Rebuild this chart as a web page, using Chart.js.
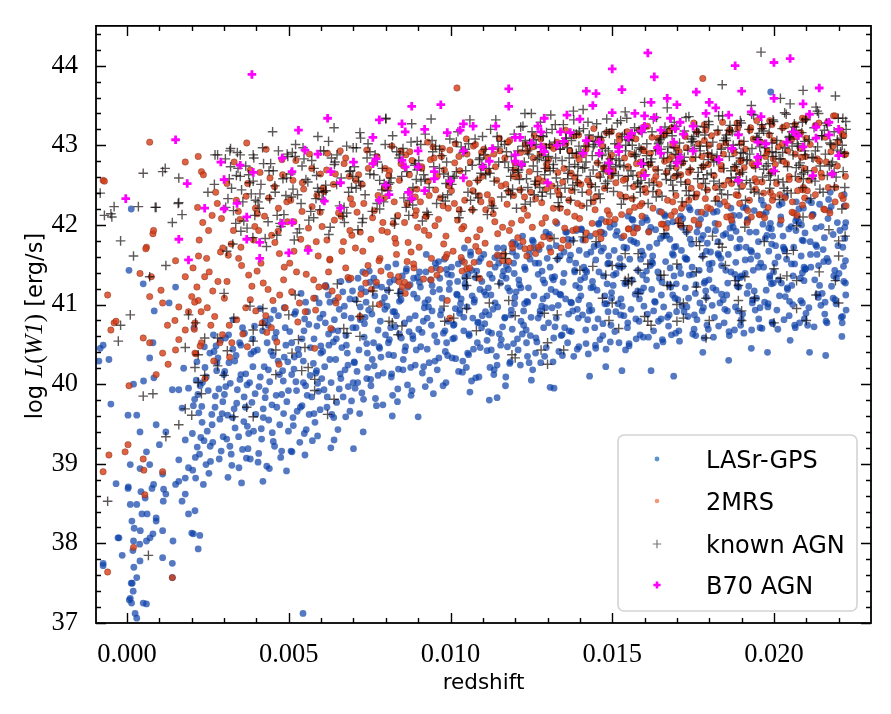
<!DOCTYPE html>
<html>
<head>
<meta charset="utf-8">
<script src="https://cdn.jsdelivr.net/npm/chart.js@4.4.0/dist/chart.umd.min.js"></script>
<style>
  html, body { margin: 0; padding: 0; background: #fff; }
  #wrap { width: 891px; height: 714px; }
</style>
</head>
<body>
<div id="wrap"><canvas id="chart" width="891" height="714"></canvas></div>
<script>
// tick values
const xTickVals = [0, 0.005, 0.010, 0.015, 0.020];
const yTickVals = [37, 38, 39, 40, 41, 42, 43, 44];

// LASr-GPS galaxies [redshift, log L(W1)]
const lasrGps = [
  // low-z tail
  [-.00074,37.72],[-.00034,38.75],[-.00028,38.07],[-.00015,37.85],[.00003,38.69],[.0001,38.49],[.00015,38.28],[.0002,38.03],
  [.00021,37.7],[.00016,37.5],[.0001,37.31],[.00014,37.25],[.00025,37.12],[.0003,37.06],[.00019,37.4],[.0003,37.57],
  [.0004,37.78],[.00041,38.16],[.00046,38.37],[.00056,38.57],[.0006,38.03],[.0005,37.25],[.00077,38.69],[.0008,38.12],
  [.0009,38.32],[.0011,37.82],[.00112,38.53],[.0014,37.75],[.00142,38.03],[.002,38.13],[.0022,37.93],[.00225,38.1],
  [.0012,38.62],[.0016,38.78],[.0018,38.82],[.00007,37.29],[.00013,37.5],[.0006,37.24],[.0014,37.57],[.00205,38.12],
  [-.00025,38.07],[-.00074,37.75],[-.0005,39.75],[-.00087,40.29],[-.00056,40.31],[-.00074,40.49],[-.00083,40.45],
  [.00006,41.43],[.0005,41.26],[.0008,40.52],[.0007,40.33],[.00083,40.08],[.00051,40.04],[.0002,40.0],[.00013,42.2],
  [.00003,39.61],[.0003,39.61],[.0004,39.4],[.0009,39.49],[.0012,39.4],[.0014,39.93],[.0016,39.93],[.001,39.24],
  [.0006,39.15],[.0001,38.99],[.0004,38.94],[.0007,38.99],[.0011,38.87],[.00004,38.71],[.00043,38.65],[.00082,38.74],
  [.00113,38.68],[.0015,38.74],[.0017,38.53],[.0003,38.49],[.00062,38.37],[.0009,38.28],[.00022,38.19],[.00071,38.07],
  [.00039,37.99],[.00018,37.91],[.0011,38.16],[.0019,38.37],[.0018,38.62],[.0021,38.41],[.00084,40.92],[.0013,41.02],
  [.0015,41.22],[.0017,39.7],[.0019,39.95],[.0018,39.3],[.00175,40.2],[.0019,38.95],[.0016,39.05],[.00544,37.12],
  // outliers below the main band
  [.0090,39.59],[.01144,39.83],[.01308,39.96],[.0143,40.1],[.0169,40.1],[.0162,40.17],[.0216,40.36],[.0211,40.4],
  [.0153,40.17],[.0082,39.6],[.0106,39.9],[.0117,39.98],[.0125,40.05],[.0148,40.22],[.0186,40.3],[.0198,40.4],
  [.0205,40.55],[.0073,39.4],[.0063,39.2],[.007,39.19],[.0064,39.3],[.0055,39.11],[.0051,39.15],[.0044,38.94],
  [.0042,38.78],[.0112,39.8],[.0178,40.4],[.0193,40.45],[.0221,40.6],[.0132,39.95],[.0199,43.67],
  // main band
  [.00203,38.92],[.00248,39.41],[.00219,39.87],[.00281,40.33],[.00207,40.71],[.00236,38.74],[.00291,39.16],[.00262,39.62],
  [.00214,40.05],[.00275,40.48],[.00253,38.88],[.00228,39.33],[.00296,39.78],[.00241,40.21],[.00267,40.62],[.00211,39.08],
  [.00284,39.94],[.00232,39.52],[.00258,39.03],[.00272,39.71],[.00244,38.99],[.00299,40.12],[.00222,39.64],[.00265,39.27],
  [.00287,39.56],[.00233,40.02],[.00217,39.21],[.00256,40.39],[.00278,40.27],[.00205,39.73],
  [.00312,38.83],[.00357,39.18],[.00331,39.69],[.00389,40.22],[.00304,40.58],[.00346,38.95],[.00372,39.47],[.00319,40.01],
  [.00394,40.73],[.00362,39.84],[.00337,40.36],[.00308,39.31],[.00381,39.06],[.00352,40.49],[.00326,39.58],[.00367,40.13],
  [.00398,39.62],[.00341,39.93],[.00315,40.27],[.00376,39.38],[.00354,38.76],[.00386,39.77],[.00322,39.12],[.00363,40.64],
  [.00334,39.45],[.00392,40.41],[.00349,40.06],[.00301,39.87],[.00371,39.99],[.00328,40.81],
  [.00405,39.02],[.00438,39.55],[.00471,40.12],[.00419,40.67],[.00493,38.91],[.00452,39.28],[.00427,39.83],[.00486,40.34],
  [.00411,40.95],[.00463,39.71],[.00445,40.41],[.00478,39.16],[.00432,38.97],[.00499,39.92],[.00457,40.58],[.00415,39.44],
  [.00468,40.86],[.00441,40.03],[.00484,39.63],[.00424,40.22],[.00449,39.39],[.00491,40.49],[.00408,39.97],[.00475,39.08],
  [.00436,40.74],[.00461,39.86],[.00481,40.17],[.00421,39.69],[.00454,40.93],[.00497,40.28],
  [.00507,39.16],[.00541,39.73],[.00576,40.26],[.00518,40.88],[.00589,39.35],[.00552,39.98],[.00529,40.44],[.00594,41.02],
  [.00513,39.58],[.00566,40.11],[.00547,40.67],[.00581,39.52],[.00534,39.27],[.00599,40.39],[.00558,40.91],[.00522,40.03],
  [.00571,39.84],[.00545,40.29],[.00587,40.73],[.00526,39.66],[.00554,39.43],[.00592,39.91],[.00509,40.52],[.00578,40.57],
  [.00538,41.14],[.00563,39.62],[.00584,40.14],[.00516,40.19],[.00549,40.82],[.00597,39.68],
  [.00652,39.43],[.00618,39.71],[.00689,39.66],[.00631,40.02],[.00674,40.18],[.00605,40.41],[.00647,40.57],[.00693,40.83],
  [.00622,41.12],[.00661,41.29],[.00684,39.97],[.00613,40.77],[.00639,39.58],[.00677,40.61],[.00656,40.94],[.00697,41.17],
  [.00627,40.31],[.00668,39.84],[.00609,39.93],[.00643,41.05],[.00681,40.39],[.00635,40.68],[.00659,40.13],[.00699,40.02],
  [.00616,41.22],[.00671,40.86],[.00648,39.77],[.00624,40.49],[.00686,41.31],[.00664,40.46],
  [.00719,39.63],[.00768,39.82],[.00741,40.07],[.00702,40.28],[.00785,40.34],[.00733,40.59],[.00757,40.88],[.00796,41.09],
  [.00714,41.33],[.00749,41.42],[.00776,40.11],[.00726,39.89],[.00791,39.74],[.00708,40.71],[.00762,40.52],[.00738,41.16],
  [.00783,40.79],[.00721,40.97],[.00754,39.98],[.00799,40.62],[.00743,40.39],[.00711,40.16],[.00771,41.24],[.00729,41.41],
  [.00764,40.23],[.00789,41.02],[.00736,40.84],[.00705,39.95],[.00779,40.47],[.00751,41.28],
  [.00836,39.78],[.00817,40.09],[.00881,39.92],[.00854,40.31],[.00808,40.52],[.00872,40.66],[.00827,40.91],[.00894,40.43],
  [.00845,41.17],[.00863,41.42],[.00812,41.28],[.00886,41.13],[.00839,40.19],[.00821,39.86],[.00877,40.21],[.00858,40.77],
  [.00804,40.98],[.00848,40.58],[.00891,40.86],[.00831,41.51],[.00867,39.99],[.00815,40.71],[.00898,41.34],[.00842,41.04],
  [.00875,41.25],[.00824,40.36],[.00861,40.47],[.00806,41.47],[.00883,40.61],[.00851,41.36],
  [.00947,39.88],[.00913,40.14],[.00986,40.02],[.00928,40.44],[.00964,40.33],[.00902,40.69],[.00951,40.61],[.00993,40.79],
  [.00919,40.96],[.00974,41.08],[.00938,41.31],[.00981,41.57],[.00907,41.22],[.00956,41.46],[.00925,41.63],[.00969,40.87],
  [.00997,41.27],[.00934,40.27],[.00988,40.52],[.00916,40.79],[.00959,40.18],[.00943,40.92],[.00978,40.64],[.00904,41.41],
  [.00966,41.19],[.00931,41.06],[.00991,41.38],[.00922,39.97],[.00953,41.52],[.00984,40.41],
  [.01012,40.58],[.01088,40.09],[.01047,41.22],[.01003,41.47],[.01069,40.83],[.01025,40.16],[.01094,41.58],[.01056,40.37],
  [.01031,41.01],[.01077,41.34],[.01009,40.74],[.01062,41.66],[.01083,40.52],[.01038,40.29],[.01051,40.97],[.01096,40.71],
  [.01019,41.13],[.01074,41.06],[.01043,41.71],[.01065,40.04],[.01028,40.89],[.01091,41.19],[.01005,40.33],[.01058,40.61],
  [.01081,41.42],[.01036,41.55],[.01071,40.44],[.01015,40.95],[.01049,40.21],[.01098,40.86],[.01022,41.29],[.01067,41.11],
  [.01041,40.67],[.01086,40.78],[.01054,41.38],
  [.01134,40.12],[.01176,40.47],[.01108,40.91],[.01161,41.36],[.01193,41.78],[.01127,40.64],[.01149,41.52],[.01185,40.28],
  [.01117,41.21],[.01168,40.83],[.01142,40.35],[.01199,41.09],[.01103,41.63],[.01157,40.56],[.01179,41.44],[.01122,40.21],
  [.01138,41.02],[.01191,40.69],[.01113,40.42],[.01164,41.71],[.01146,40.97],[.01183,41.17],[.01129,41.33],[.01171,40.09],
  [.01106,40.76],[.01154,41.27],[.01195,40.51],[.01137,41.59],[.01119,40.87],[.01188,40.93],[.01151,40.63],[.01173,41.49],
  [.01125,41.12],[.01197,41.39],[.01144,40.24],
  [.01254,40.18],[.01209,40.43],[.01288,40.71],[.01236,41.04],[.01271,41.38],[.01214,41.73],[.01295,41.91],[.01247,40.61],
  [.01226,40.92],[.01279,40.27],[.01203,41.16],[.01262,41.52],[.01238,40.35],[.01291,41.27],[.01218,40.79],[.01267,40.53],
  [.01244,41.64],[.01282,40.98],[.01207,40.57],[.01258,41.11],[.01231,41.44],[.01296,40.46],[.01223,41.86],[.01274,41.69],
  [.01249,40.84],[.01211,41.31],[.01286,41.07],[.01263,40.39],[.01234,40.68],[.01299,41.58],[.01216,40.24],[.01256,41.79],
  [.01241,41.21],[.01277,40.88],[.01229,41.01],
  [.01317,40.28],[.01362,40.52],[.01395,40.83],[.01341,41.12],[.01308,41.47],[.01376,41.81],[.01329,42.02],[.01353,40.71],
  [.01387,41.24],[.01314,40.96],[.01368,41.56],[.01335,40.41],[.01398,41.68],[.01322,41.35],[.01345,40.62],[.01381,40.35],
  [.01303,40.77],[.01359,41.91],[.01372,41.03],[.01327,41.74],[.01392,40.94],[.01348,41.28],[.01311,41.19],[.01365,40.88],
  [.01339,41.61],[.01384,41.43],[.01319,40.58],[.01356,41.07],[.01397,40.47],[.01333,40.99],[.01374,40.66],[.01306,41.88],
  [.01351,41.39],[.01389,41.93],[.01325,41.16],
  [.01426,40.38],[.01471,40.61],[.01408,40.87],[.01453,41.18],[.01489,41.52],[.01432,41.86],[.01467,42.07],[.01415,41.34],
  [.01496,40.74],[.01448,40.49],[.01477,41.01],[.01421,41.63],[.01459,41.41],[.01493,41.97],[.01437,40.93],[.01403,41.11],
  [.01484,41.26],[.01444,41.73],[.01462,40.56],[.01418,40.68],[.01475,41.89],[.01439,41.29],[.01498,41.08],[.01412,41.47],
  [.01456,40.82],[.01481,40.44],[.01429,40.99],[.01466,41.67],[.01405,41.94],[.01449,41.56],[.01487,40.91],[.01434,41.21],
  [.01473,41.36],[.01419,40.51],[.01458,42.02],
  [.01541,40.43],[.01508,40.66],[.01583,40.79],[.01527,41.07],[.01562,41.31],[.01596,41.62],[.01515,41.92],[.01549,42.11],
  [.01574,40.57],[.01533,41.48],[.01589,41.16],[.01503,41.24],[.01558,40.94],[.01521,40.52],[.01567,41.79],[.01592,42.03],
  [.01545,41.71],[.01512,41.39],[.01579,41.43],[.01536,40.86],[.01554,41.57],[.01598,40.98],[.01518,41.01],[.01571,41.13],
  [.01529,41.84],[.01586,40.62],[.01547,40.71],[.01506,41.68],[.01564,42.06],[.01539,41.26],[.01594,41.37],[.01524,41.58],
  [.01577,41.96],[.01552,40.48],[.01511,40.91],
  [.01637,40.48],[.01674,40.73],[.01609,40.88],[.01652,41.12],[.01691,41.36],[.01625,41.61],[.01668,41.87],[.01603,42.09],
  [.01646,42.17],[.01683,40.62],[.01618,41.49],[.01659,40.97],[.01697,41.73],[.01631,41.04],[.01676,41.25],[.01612,40.59],
  [.01649,41.83],[.01688,42.04],[.01622,41.19],[.01665,41.54],[.01699,40.91],[.01643,40.79],[.01606,41.31],[.01679,41.46],
  [.01634,41.94],[.01657,40.53],[.01694,41.08],[.01615,41.72],[.01671,40.84],[.01628,40.67],[.01686,41.64],[.01641,41.41],
  [.01662,42.13],[.01619,41.97],[.01654,41.28],
  [.01708,40.54],[.01753,40.69],[.01782,40.96],[.01726,41.21],[.01769,41.43],[.01714,41.68],[.01796,41.94],[.01741,42.19],
  [.01762,40.81],[.01703,41.06],[.01787,41.29],[.01731,41.57],[.01775,41.82],[.01718,42.08],[.01749,40.63],[.01793,40.74],
  [.01722,40.91],[.01757,41.14],[.01738,41.37],[.01779,41.61],[.01712,41.39],[.01766,41.99],[.01799,41.51],[.01734,40.85],
  [.01745,41.76],[.01788,42.14],[.01706,40.67],[.01771,41.02],[.01729,41.91],[.01759,41.25],[.01791,41.09],[.01716,40.98],
  [.01784,40.58],[.01747,41.47],[.01737,42.22],
  [.01813,40.59],[.01846,40.77],[.01889,40.92],[.01821,41.18],[.01867,41.41],[.01804,41.66],[.01851,41.89],[.01893,42.12],
  [.01832,42.26],[.01878,40.68],[.01809,40.99],[.01857,41.27],[.01882,41.53],[.01827,41.79],[.01871,42.03],[.01816,40.84],
  [.01843,41.06],[.01897,41.34],[.01836,41.58],[.01862,40.61],[.01885,41.71],[.01802,41.44],[.01854,41.12],[.01874,41.97],
  [.01824,42.17],[.01848,40.94],[.01899,40.81],[.01838,41.49],[.01866,41.84],[.01811,41.21],[.01887,41.23],[.01829,40.73],
  [.01859,41.63],[.01819,41.93],[.01879,41.38],
  [.01907,40.64],[.01953,40.82],[.01981,40.97],[.01922,41.23],[.01968,41.47],[.01914,41.72],[.01992,41.95],[.01939,42.18],
  [.01961,42.31],[.01903,40.88],[.01946,41.08],[.01987,41.33],[.01928,41.57],[.01973,41.83],[.01918,42.07],[.01957,40.71],
  [.01996,40.76],[.01933,41.02],[.01976,41.18],[.01911,41.39],[.01949,41.61],[.01984,41.67],[.01925,41.91],[.01966,42.13],
  [.01942,40.93],[.01998,41.27],[.01936,41.43],[.01971,41.03],[.01905,42.22],[.01959,41.52],[.01989,42.02],[.01931,40.68],
  [.01952,41.79],[.01917,41.14],[.01978,41.87],
  [.02012,40.69],[.02047,40.86],[.02088,41.02],[.02023,41.27],[.02064,41.51],[.02005,41.74],[.02053,41.98],[.02091,42.21],
  [.02036,42.36],[.02079,40.77],[.02017,41.11],[.02059,41.36],[.02084,41.61],[.02028,41.86],[.02071,42.09],[.02009,40.93],
  [.02042,41.19],[.02096,41.44],[.02033,41.68],[.02066,40.71],[.02087,41.81],[.02003,41.52],[.02055,41.24],[.02076,42.04],
  [.02025,42.27],[.02048,41.04],[.02099,40.89],[.02039,41.57],[.02068,41.93],[.02014,41.31],[.02082,41.33],[.02031,40.81],
  [.02061,41.72],[.02019,42.01],[.02093,41.47],
  [.02104,40.74],[.02157,40.88],[.02189,41.06],[.02126,41.31],[.02168,41.54],[.02112,41.79],[.02196,42.03],[.02141,42.26],
  [.02174,42.41],[.02108,40.96],[.02149,41.14],[.02201,41.39],[.02133,41.63],[.02183,41.88],[.02119,42.13],[.02161,40.79],
  [.02208,40.84],[.02137,41.09],[.02178,41.23],[.02114,41.47],[.02152,41.69],[.02213,41.72],[.02129,41.96],[.02171,42.18],
  [.02145,40.99],[.02216,41.29],[.02138,41.49],[.02192,41.01],[.02106,42.31],[.02164,41.58],[.02219,41.97],[.02124,40.72],
  [.02156,41.84],[.02185,41.36],[.02222,41.12],[.02221,41.55],[.02218,42.24],[.02211,40.77],[.02198,41.74],[.02223,40.93]
];

// LASr-GPS, extra points in the crowded core of the band
const lasrGpsCore = [
  [.00224,39.12],[.00263,39.49],[.00209,39.81],[.00277,40.17],[.00238,39.29],[.00294,39.63],[.00216,40.28],[.00251,39.92],
  [.00285,39.06],[.00231,39.72],[.00269,40.41],[.00202,39.38],[.00245,40.09],[.00289,40.55],[.00257,39.22],[.00212,38.82],
  [.00273,39.85],[.00239,40.47],[.00297,39.34],[.00226,39.98],
  [.00318,39.22],[.00361,39.53],[.00305,39.97],[.00383,40.38],[.00339,39.76],[.00374,39.19],[.00327,40.44],[.00352,40.12],
  [.00396,39.88],[.00311,39.61],[.00345,39.34],[.00388,40.57],[.00366,39.71],[.00333,40.29],[.00379,40.02],[.00302,40.16],
  [.00357,40.71],[.00324,38.98],[.00391,39.41],[.00348,40.52],[.00369,39.07],[.00314,40.62],
  [.00416,39.31],[.00448,39.74],[.00483,40.04],[.00403,40.43],[.00437,40.18],[.00472,39.49],[.00428,39.92],[.00461,40.65],
  [.00494,39.78],[.00412,40.09],[.00456,39.22],[.00489,40.71],[.00433,40.52],[.00467,40.29],[.00421,39.58],[.00478,39.87],
  [.00443,40.82],[.00499,39.41],[.00407,39.13],[.00451,40.36],[.00486,40.96],[.00426,40.79],
  [.00514,39.48],[.00557,39.86],[.00531,40.37],[.00586,40.17],[.00503,40.66],[.00545,40.02],[.00578,39.63],[.00521,40.91],
  [.00567,40.46],[.00596,40.83],[.00536,39.71],[.00552,41.03],[.00509,40.12],[.00573,39.29],[.00541,40.57],[.00589,40.01],
  [.00524,39.92],[.00562,40.75],[.00599,40.48],[.00517,40.34],[.00548,39.38],[.00582,41.08],
  [.00619,39.84],[.00661,40.07],[.00638,40.53],[.00683,40.24],[.00606,40.88],[.00652,40.67],[.00694,39.79],[.00627,41.03],
  [.00672,40.98],[.00645,40.31],[.00611,40.22],[.00678,40.49],[.00633,39.62],[.00667,41.16],[.00698,40.71],[.00623,40.63],
  [.00656,39.94],[.00689,41.07],[.00602,40.07],[.00641,40.81],[.00676,39.59],[.00614,41.24],
  [.00713,40.02],[.00758,40.31],[.00734,40.76],[.00781,40.45],[.00706,41.06],[.00747,40.93],[.00792,40.14],[.00724,41.2],
  [.00766,41.11],[.00741,40.51],[.00717,40.43],[.00776,40.68],[.00731,39.81],[.00763,41.33],[.00797,40.94],[.00721,40.81],
  [.00753,40.06],[.00787,41.22],[.00703,40.27],[.00739,41.03],[.00771,39.73],[.00744,40.21],
  [.00818,40.13],[.00859,40.42],[.00833,40.86],[.00884,40.57],[.00805,41.18],[.00847,41.06],[.00891,40.24],[.00826,41.31],
  [.00868,41.22],[.00842,40.63],[.00811,40.56],[.00873,40.82],[.00837,39.94],[.00864,41.45],[.00897,41.08],[.00822,40.91],
  [.00853,40.18],[.00886,41.33],[.00809,40.37],[.00844,41.13],[.00878,39.86],[.00829,40.72],
  [.00917,40.22],[.00958,40.53],[.00932,40.97],[.00983,40.67],[.00904,41.28],[.00946,41.16],[.00991,40.36],[.00924,41.41],
  [.00967,41.33],[.00941,40.74],[.00912,40.65],[.00972,40.93],[.00936,40.05],[.00963,41.54],[.00996,41.19],[.00921,41.02],
  [.00952,40.29],[.00987,41.44],[.00908,40.47],[.00943,41.24],[.00977,39.98],[.00928,40.83],
  [.01016,40.32],[.01057,40.63],[.01033,41.07],[.01084,40.77],[.01003,41.37],[.01045,41.26],[.01092,40.46],[.01024,41.51],
  [.01066,41.43],[.01041,40.84],[.01011,40.75],[.01073,41.03],[.01037,40.15],[.01062,41.62],[.01097,41.29],[.01021,41.12],
  [.01053,40.39],[.01088,41.54],[.01007,40.57],[.01044,41.34],[.01078,40.08],[.01029,40.93],
  [.01126,40.43],[.01161,40.72],[.01104,41.16],[.01187,40.87],[.01138,41.47],[.01172,41.33],[.01113,40.55],[.01149,41.61],
  [.01195,41.52],[.01131,40.94],[.01168,40.84],[.01109,41.12],[.01183,40.26],[.01145,41.71],[.01121,41.38],[.01177,41.21],
  [.01155,40.49],[.01192,41.66],[.01117,40.66],[.01164,41.42],[.01135,40.18],[.01198,41.01],
  [.01235,40.52],[.01271,40.83],[.01213,41.25],[.01294,40.96],[.01246,41.57],[.01283,41.42],[.01222,40.63],[.01258,41.71],
  [.01204,41.61],[.01239,41.03],[.01277,40.92],[.01218,41.21],[.01291,40.35],[.01253,41.81],[.01229,41.47],[.01286,41.31],
  [.01264,40.58],[.01201,41.76],[.01226,40.74],[.01273,41.52],[.01243,40.27],[.01298,41.11],
  [.01342,40.61],[.01378,40.92],[.01314,41.34],[.01396,41.06],[.01351,41.66],[.01387,41.52],[.01323,40.72],[.01363,41.82],
  [.01306,41.71],[.01338,41.13],[.01374,41.02],[.01318,41.31],[.01392,40.44],[.01356,41.91],[.01331,41.57],[.01384,41.41],
  [.01367,40.67],[.01302,41.86],[.01327,40.83],[.01371,41.62],[.01346,40.36],[.01399,41.21],
  [.01446,40.71],[.01483,41.01],[.01417,41.43],[.01498,41.15],[.01455,41.75],[.01489,41.61],[.01424,40.81],[.01467,41.91],
  [.01409,41.81],[.01441,41.22],[.01477,41.11],[.01421,41.41],[.01494,40.53],[.01458,42.01],[.01434,41.66],[.01486,41.51],
  [.01471,40.76],[.01404,41.95],[.01429,40.92],[.01473,41.71],[.01449,40.45],[.01402,41.31],
  [.01548,40.77],[.01584,41.07],[.01519,41.49],[.01597,41.21],[.01557,41.81],[.01591,41.67],[.01526,40.87],[.01568,41.97],
  [.01511,41.87],[.01543,41.28],[.01579,41.17],[.01523,41.47],[.01596,40.59],[.01561,42.07],[.01536,41.72],[.01588,41.57],
  [.01573,40.82],[.01506,42.01],[.01531,40.98],[.01576,41.77],[.01552,40.51],[.01504,41.37],
  [.01651,40.82],[.01687,41.12],[.01622,41.54],[.01698,41.26],[.01659,41.86],[.01692,41.72],[.01628,40.92],[.01671,42.02],
  [.01613,41.92],[.01646,41.33],[.01681,41.22],[.01625,41.52],[.01696,40.64],[.01663,42.11],[.01638,41.77],[.01689,41.62],
  [.01676,40.87],[.01608,42.06],[.01633,41.03],[.01678,41.82],[.01655,40.56],[.01606,41.42],
  [.01754,40.87],[.01789,41.17],[.01725,41.59],[.01799,41.31],[.01762,41.91],[.01794,41.77],[.01731,40.97],[.01773,42.07],
  [.01716,41.97],[.01749,41.38],[.01784,41.27],[.01728,41.57],[.01797,40.69],[.01765,42.16],[.01741,41.82],[.01791,41.67],
  [.01778,40.92],[.01711,42.11],[.01736,41.08],[.01781,41.87],[.01758,40.61],[.01707,41.47],
  [.01856,40.92],[.01891,41.22],[.01827,41.64],[.01898,41.36],[.01864,41.96],[.01895,41.82],[.01833,41.02],[.01875,42.12],
  [.01818,42.02],[.01851,41.43],[.01886,41.32],[.01829,41.62],[.01897,40.74],[.01867,42.21],[.01843,41.87],[.01893,41.72],
  [.01881,40.97],[.01813,42.16],[.01838,41.13],[.01883,41.92],[.01861,40.66],[.01809,41.52],
  [.01957,40.96],[.01992,41.26],[.01928,41.68],[.01999,41.41],[.01966,42.01],[.01996,41.86],[.01934,41.06],[.01976,42.16],
  [.01919,42.06],[.01952,41.47],[.01987,41.36],[.01931,41.66],[.01994,40.78],[.01968,42.25],[.01945,41.91],[.01993,41.76],
  [.01982,41.01],[.01914,42.21],[.01939,41.17],[.01984,41.96],[.01963,40.7],[.01911,41.56],
  [.02058,41.0],[.02093,41.3],[.02029,41.72],[.02098,41.45],[.02067,42.05],[.02096,41.9],[.02035,41.1],[.02077,42.2],
  [.02021,42.1],[.02054,41.51],[.02088,41.4],[.02032,41.7],[.02094,40.82],[.02069,42.29],[.02046,41.95],[.02091,41.8],
  [.02083,41.05],[.02016,42.25],[.02041,41.21],[.02085,42.0],[.02064,40.74],[.02013,41.6],
  [.02158,41.03],[.02193,41.33],[.02129,41.75],[.02215,41.48],[.02167,42.08],[.02204,41.93],[.02135,41.13],[.02177,42.23],
  [.02121,42.13],[.02154,41.54],[.02188,41.43],[.02132,41.73],[.02212,40.85],[.02169,42.32],[.02146,41.98],[.02219,41.83],
  [.02183,41.08],[.02116,42.28],[.02141,41.24],[.02222,42.03],[.02164,40.77],[.02113,41.63],[.02221,41.27],[.02217,42.38]
];

// 2MRS galaxies
const twoMrs = [
  // sparse, low redshift
  [-.00074,42.56],[.0007,43.04],[.0018,42.79],[.0023,42.67],[.0037,43.03],[.0008,41.89],[.0006,41.72],[-.0007,42.55],
  [.0022,42.86],[.0015,41.55],[.00082,41.93],[.00058,41.7],[.0004,41.39],[-.0006,41.12],[-.0004,40.77],[.0005,40.58],
  [.0007,40.52],[.0011,41.02],[.00148,40.8],[.0018,41.35],[.0022,41.05],[.0024,41.35],[.0021,40.77],[-.0005,40.68],
  [-.00034,40.79],[.00075,41.35],[.00006,39.98],[.00003,39.24],[-.00056,39.11],[-.00074,38.9],[-.0006,37.64],[.0014,37.57],
  [.0002,37.95],[.0009,40.12],[.00127,40.25],[.0011,40.39],[.0015,40.43],[.0016,40.56],[.0018,40.68],[.0007,41.1],
  [.00105,41.18],[.00125,40.74],[.0016,40.97],[.0019,40.91],[.0020,41.1],[.0021,40.39],[.0023,40.52],[.0005,39.06],
  [.00052,38.92],[.0011,38.9],[.00055,38.61],[-.00006,39.15],[.0102,43.72],[.0178,43.84],[.0062,42.9],[.0043,42.95],
  // scattered inside the GPS band
  [.0086,41.14],[.0099,41.05],[.00998,40.83],[.0094,41.31],[.0087,41.24],[.0084,41.29],[.0123,41.7],[.0131,41.66],
  [.0109,41.33],[.0118,41.54],[.0072,40.85],[.0063,40.7],[.0058,40.45],[.0047,40.25],[.0078,41.0],[.0105,41.45],
  [.0142,41.9],[.0155,41.95],[.0171,42.0],[.0193,42.1],[.0128,41.75],
  // main band
  [.00241,40.07],[.00213,40.38],[.00287,40.52],[.00229,40.91],[.00265,41.17],[.00204,41.46],[.00296,41.71],[.00252,41.93],
  [.00218,42.22],[.00274,42.41],[.00236,42.63],[.00259,40.74],[.00281,41.29],[.00208,40.69],[.00246,41.58],[.00292,42.08],
  [.00223,41.81],[.00268,40.29],
  [.00317,40.34],[.00372,40.47],[.00339,40.81],[.00301,41.08],[.00386,41.23],[.00354,41.49],[.00322,41.76],[.00395,41.98],
  [.00344,42.17],[.00368,42.36],[.00309,42.52],[.00381,42.69],[.00331,42.79],[.00358,40.63],[.00313,41.62],[.00376,41.37],
  [.00349,42.07],[.00398,40.92],
  [.00463,40.53],[.00418,40.77],[.00489,40.96],[.00436,41.19],[.00402,41.42],[.00471,41.64],[.00447,41.87],[.00425,42.11],
  [.00494,42.29],[.00456,42.48],[.00411,42.66],[.00479,42.82],[.00432,40.65],[.00484,41.31],[.00451,41.05],[.00407,41.93],
  [.00468,42.21],[.00442,42.59],
  [.00528,40.78],[.00583,40.93],[.00509,41.16],[.00554,41.38],[.00591,41.61],[.00537,41.82],[.00516,42.04],[.00572,42.23],
  [.00546,42.45],[.00598,42.64],[.00522,42.81],[.00564,42.89],[.00503,41.52],[.00577,41.08],[.00541,42.17],[.00587,42.37],
  [.00559,41.71],[.00513,42.56],
  [.00646,41.02],[.00612,41.23],[.00683,41.34],[.00627,41.56],[.00669,41.79],[.00603,41.98],[.00654,42.15],[.00691,42.33],
  [.00638,42.51],[.00617,42.69],[.00676,42.84],[.00659,42.93],[.00623,41.41],[.00695,41.87],[.00641,42.06],[.00608,42.42],
  [.00687,42.61],[.00664,41.67],
  [.00723,41.13],[.00771,41.28],[.00745,41.49],[.00706,41.71],[.00788,41.93],[.00759,42.09],[.00732,42.27],[.00795,42.46],
  [.00716,42.63],[.00764,42.78],[.00741,42.94],[.00782,41.58],[.00711,42.16],[.00754,41.82],[.00798,42.71],[.00727,42.51],
  [.00776,42.37],[.00737,41.39],
  [.00851,41.22],[.00814,41.37],[.00887,41.46],[.00833,41.63],[.00869,41.78],[.00805,41.91],[.00858,42.03],[.00894,42.18],
  [.00826,42.29],[.00876,42.42],[.00842,42.56],[.00811,42.68],[.00881,42.81],[.00847,42.93],[.00819,42.99],[.00866,41.54],
  [.00898,41.97],[.00837,42.12],[.00873,42.63],[.00808,42.47],[.00855,42.74],[.00891,42.35],[.00828,41.83],[.00862,42.88],
  [.00917,41.32],[.00968,41.44],[.00941,41.58],[.00903,41.72],[.00986,41.86],[.00952,41.99],[.00924,42.11],[.00977,42.24],
  [.00934,42.37],[.00995,42.49],[.00959,42.61],[.00911,42.73],[.00972,42.86],[.00946,42.98],[.00929,43.04],[.00989,41.63],
  [.00907,42.29],[.00963,42.07],[.00938,42.82],[.00981,42.69],[.00919,41.93],[.00954,42.44],[.00998,42.94],[.00931,42.55],
  [.01036,41.42],[.01073,41.53],[.01008,41.67],[.01054,41.81],[.01091,41.94],[.01022,42.06],[.01067,42.19],[.01044,42.31],
  [.01003,42.43],[.01085,42.56],[.01029,42.68],[.01061,42.79],[.01096,42.91],[.01015,43.02],[.01049,43.08],[.01078,41.73],
  [.01033,41.59],[.01012,42.27],[.01089,42.37],[.01058,42.52],[.01026,42.86],[.01071,42.99],[.01041,41.98],[.01099,42.72],
  [.01121,41.51],[.01164,41.63],[.01107,41.77],[.01146,41.89],[.01189,42.02],[.01132,42.14],[.01175,42.26],[.01114,42.38],
  [.01157,42.49],[.01196,42.61],[.01139,42.73],[.01168,42.84],[.01103,42.95],[.01183,43.06],[.01151,43.09],[.01127,42.31],
  [.01192,41.71],[.01143,42.56],[.01117,42.67],[.01179,42.42],[.01161,41.97],[.01134,42.89],[.01199,42.78],[.01109,42.19],
  [.01236,41.61],[.01271,41.72],[.01208,41.84],[.01253,41.97],[.01294,42.09],[.01227,42.2],[.01263,42.33],[.01215,42.44],
  [.01286,42.55],[.01244,42.67],[.01202,42.78],[.01277,42.89],[.01232,43.01],[.01259,43.12],[.01298,42.71],[.01219,42.06],
  [.01282,42.28],[.01248,42.41],[.01211,42.61],[.01267,42.52],[.01238,42.93],[.01289,42.99],[.01224,41.79],[.01256,42.84],
  [.01342,41.71],[.01307,41.83],[.01378,41.93],[.01325,42.04],[.01361,42.16],[.01393,42.27],[.01336,42.38],[.01314,42.49],
  [.01384,42.6],[.01351,42.71],[.01303,42.82],[.01369,42.93],[.01329,43.04],[.01396,43.13],[.01356,43.19],[.01318,42.21],
  [.01374,42.43],[.01347,42.54],[.01389,42.87],[.01311,42.99],[.01366,42.31],[.01332,42.66],[.01399,42.08],[.01353,41.96],
  [.01417,41.81],[.01462,41.91],[.01438,42.02],[.01491,42.13],[.01406,42.24],[.01449,42.35],[.01476,42.46],[.01424,42.56],
  [.01485,42.67],[.01454,42.78],[.01412,42.88],[.01469,42.99],[.01433,43.09],[.01497,43.17],[.01443,43.21],[.01481,42.04],
  [.01403,42.51],[.01458,42.62],[.01428,42.41],[.01493,42.83],[.01466,43.06],[.01419,42.95],[.01447,42.19],[.01474,42.72],
  [.01536,41.86],[.01578,41.96],[.01509,42.07],[.01553,42.17],[.01592,42.27],[.01524,42.38],[.01566,42.48],[.01541,42.58],
  [.01503,42.68],[.01587,42.79],[.01558,42.89],[.01517,42.99],[.01573,43.08],[.01546,43.17],[.01598,43.23],[.01529,42.13],
  [.01562,42.33],[.01511,42.53],[.01583,42.63],[.01538,42.84],[.01594,42.95],[.01521,43.12],[.01569,42.22],[.01549,42.73],
  [.01613,41.91],[.01657,42.01],[.01682,42.12],[.01626,42.21],[.01671,42.31],[.01604,42.41],[.01645,42.51],[.01693,42.61],
  [.01634,42.7],[.01662,42.8],[.01618,42.9],[.01687,43.0],[.01641,43.09],[.01675,43.18],[.01609,43.24],[.01652,42.16],
  [.01697,42.37],[.01629,42.56],[.01668,42.66],[.01616,42.76],[.01684,42.86],[.01638,42.96],[.01659,43.13],[.01601,42.46],
  [.01739,41.96],[.01704,42.06],[.01776,42.16],[.01721,42.26],[.01758,42.35],[.01794,42.44],[.01733,42.54],[.01712,42.63],
  [.01781,42.73],[.01748,42.83],[.01707,42.92],[.01767,43.02],[.01726,43.11],[.01789,43.19],[.01752,43.28],[.01714,42.21],
  [.01773,42.49],[.01742,42.69],[.01798,42.88],[.01729,42.97],[.01762,42.39],[.01718,42.78],[.01785,43.06],[.01737,42.31],
  [.01828,42.01],[.01866,42.11],[.01804,42.2],[.01847,42.29],[.01883,42.38],[.01819,42.47],[.01859,42.56],[.01895,42.66],
  [.01836,42.75],[.01812,42.84],[.01874,42.94],[.01851,43.03],[.01807,43.12],[.01888,43.21],[.01841,43.29],[.01823,42.33],
  [.01869,42.52],[.01898,42.81],[.01833,42.99],[.01856,42.24],[.01815,42.62],[.01879,42.71],[.01844,42.89],[.01862,43.17],
  [.01917,42.03],[.01956,42.13],[.01982,42.22],[.01924,42.31],[.01968,42.4],[.01903,42.49],[.01941,42.58],[.01991,42.67],
  [.01932,42.77],[.01974,42.86],[.01912,42.95],[.01959,43.04],[.01986,43.13],[.01928,43.22],[.01947,43.31],[.01997,42.36],
  [.01908,42.72],[.01963,42.54],[.01936,43.08],[.01979,42.91],[.01919,42.18],[.01952,42.82],[.01994,43.26],[.01943,42.45],
  [.02022,42.06],[.02061,42.15],[.02088,42.25],[.02034,42.34],[.02073,42.43],[.02008,42.52],[.02047,42.61],[.02094,42.71],
  [.02029,42.8],[.02066,42.89],[.02014,42.98],[.02054,43.07],[.02083,43.16],[.02039,43.25],[.02097,43.33],[.02018,42.38],
  [.02077,42.57],[.02043,42.93],[.02004,42.76],[.02069,43.11],[.02091,42.47],[.02026,43.02],[.02057,42.29],[.02085,42.85],
  [.02117,42.11],[.02154,42.2],[.02189,42.29],[.02128,42.38],[.02168,42.47],[.02108,42.56],[.02146,42.65],[.02196,42.74],
  [.02134,42.83],[.02176,42.92],[.02112,43.01],[.02159,43.1],[.02207,43.19],[.02139,43.28],[.02184,43.37],[.02214,42.33],
  [.02221,42.61],[.02218,42.88],[.02211,43.14],[.02223,42.24],[.02103,42.43],[.02162,42.79],[.02198,43.04],[.02125,42.69]
];

// 2MRS, extra points in the crowded band
const twoMrsBand = [
  [.00226,40.48],[.00271,40.85],[.00209,41.03],[.00254,41.41],[.00289,41.66],[.00234,42.03],[.00216,41.22],[.00279,42.27],
  [.00248,40.96],[.00295,40.62],[.00221,41.61],[.00263,42.12],
  [.00324,40.52],[.00367,40.96],[.00309,41.29],[.00352,41.72],[.00391,41.81],[.00338,42.31],[.00316,40.74],[.00381,41.06],
  [.00345,41.58],[.00397,42.21],[.00329,41.93],[.00373,42.52],
  [.00429,40.86],[.00472,41.12],[.00414,41.52],[.00457,41.78],[.00496,42.04],[.00438,42.34],[.00421,41.27],[.00486,41.47],
  [.00446,40.71],[.00403,42.14],[.00467,41.92],[.00481,42.63],
  [.00533,41.02],[.00577,41.31],[.00516,41.67],[.00561,41.96],[.00597,42.16],[.00542,42.53],[.00524,41.41],[.00585,41.79],
  [.00551,40.91],[.00506,42.31],[.00571,42.71],[.00593,41.22],
  [.00634,41.17],[.00676,41.46],[.00618,41.81],[.00662,42.11],[.00697,42.26],[.00644,42.64],[.00627,41.57],[.00689,41.93],
  [.00653,41.09],[.00606,42.46],[.00671,42.77],[.00692,41.33],
  [.00738,41.27],[.00779,41.55],[.00721,41.91],[.00765,42.18],[.00796,42.34],[.00746,42.71],[.00729,41.67],[.00791,42.03],
  [.00756,41.19],[.00707,42.56],[.00773,42.86],[.00785,41.42],
  [.00839,41.35],[.00878,41.66],[.00823,42.02],[.00866,42.26],[.00896,42.45],[.00847,42.77],[.00831,41.77],[.00891,42.12],
  [.00858,41.28],[.00809,42.62],[.00874,42.92],[.00886,41.51],
  [.00941,41.44],[.00979,41.76],[.00925,42.11],[.00968,42.34],[.00997,42.53],[.00949,42.84],[.00933,41.87],[.00993,42.21],
  [.00958,41.37],[.00911,42.71],[.00975,42.96],[.00985,41.59],
  [.01043,41.53],[.01081,41.85],[.01027,42.19],[.01069,42.43],[.01098,42.61],[.01051,42.89],[.01035,41.95],[.01094,42.29],
  [.01059,41.46],[.01013,42.78],[.01077,43.01],[.01087,41.67],
  [.01145,41.62],[.01182,41.93],[.01128,42.27],[.01171,42.51],[.01199,42.69],[.01153,42.93],[.01137,42.04],[.01195,42.37],
  [.01161,41.55],[.01115,42.85],[.01178,43.04],[.01189,41.76],
  [.01247,41.71],[.01283,42.02],[.01229,42.35],[.01272,42.58],[.01297,42.76],[.01255,42.98],[.01238,42.12],[.01296,42.45],
  [.01263,41.64],[.01217,42.91],[.01279,43.08],[.01288,41.85],
  [.01348,41.81],[.01384,42.11],[.01331,42.43],[.01373,42.65],[.01398,42.82],[.01357,43.02],[.01339,42.21],[.01395,42.53],
  [.01364,41.74],[.01319,42.96],[.01381,43.12],[.01389,41.95],
  [.01449,41.89],[.01485,42.18],[.01432,42.5],[.01474,42.71],[.01498,42.88],[.01458,43.07],[.01441,42.29],[.01496,42.61],
  [.01465,41.83],[.01421,43.01],[.01482,43.16],[.01491,42.04],
  [.01551,41.95],[.01586,42.24],[.01534,42.56],[.01575,42.77],[.01599,42.93],[.01559,43.11],[.01542,42.35],[.01597,42.67],
  [.01566,41.9],[.01522,43.06],[.01583,43.19],[.01592,42.11],
  [.01652,42.01],[.01687,42.29],[.01635,42.61],[.01676,42.82],[.01699,42.97],[.01661,43.14],[.01643,42.41],[.01698,42.72],
  [.01667,41.96],[.01623,43.1],[.01684,43.22],[.01693,42.17],
  [.01753,42.06],[.01788,42.33],[.01736,42.66],[.01777,42.86],[.01799,43.0],[.01762,43.17],[.01744,42.46],[.01797,42.76],
  [.01768,42.01],[.01724,43.13],[.01785,43.26],[.01794,42.22],
  [.01854,42.1],[.01889,42.37],[.01837,42.7],[.01878,42.9],[.01899,43.03],[.01863,43.2],[.01845,42.5],[.01897,42.8],
  [.01869,42.06],[.01825,43.16],[.01886,43.28],[.01894,42.27],
  [.01955,42.13],[.01989,42.41],[.01938,42.74],[.01979,42.93],[.01999,43.06],[.01964,43.23],[.01946,42.54],[.01998,42.83],
  [.01971,42.09],[.01926,43.19],[.01987,43.31],[.01995,42.31],
  [.02056,42.16],[.02089,42.44],[.02039,42.77],[.02081,42.96],[.02099,43.09],[.02065,43.26],[.02047,42.57],[.02098,42.86],
  [.02072,42.12],[.02027,43.22],[.02088,43.34],[.02095,42.34],
  [.02157,42.19],[.02191,42.47],[.02141,42.8],[.02183,42.99],[.02216,43.12],[.02166,43.29],[.02148,42.6],[.02222,42.89],
  [.02173,42.15],[.02128,43.25],[.02189,43.37],[.02209,42.37]
];

// known AGN
const knownAgn = [
  // sparse, low redshift
  [-.00083,42.4],[-.0004,42.23],[-.0007,42.12],[-.00047,42.1],[.0005,42.65],[.0011,42.67],[.00118,42.71],[.00087,42.22],
  [.0016,42.59],[.00158,42.27],[.0014,42.03],[.0017,42.13],[.0045,43.17],[.0028,42.88],[.0032,42.96],[-.0002,41.8],
  [-.0005,42.14],[.0002,41.61],[.0012,41.49],[.0016,42.28],[.0009,42.22],[.00035,42.23],[-.0002,40.74],[.0001,40.87],
  [-.00027,40.54],[.0007,41.35],[.00272,42.88],[.0035,42.88],[.0039,42.88],[.0052,42.86],[.0064,43.22],[.0059,43.11],
  [.0072,43.16],[.008,43.34],[.0032,42.73],[.0035,42.61],[.0039,42.55],[.0027,42.51],[.0025,42.41],[-.0006,38.53],
  [.0005,39.85],[.0008,39.88],[.0012,39.34],[.0016,39.49],[.0018,39.69],[.002,39.61],[.00066,37.85],[.0023,39.88],
  [.0021,40.21],[.0018,40.46],[.0022,40.37],[.0019,40.87],[.00212,40.77],[.0024,40.58],[.0022,40.02],[.0024,40.11],
  [.0028,40.58],[.003,41.14],[.0028,40.23],[.003,40.11],[.0031,40.42],[.0033,39.59],[.0037,39.71],[.0039,39.59],
  [.0039,40.54],[.0046,40.43],[.0051,40.39],[.0046,40.12],[.0054,40.17],[.0058,40.06],[.0058,39.92],[.0062,39.62],
  [.0064,39.81],[.0055,40.46],[.0068,40.64],[.0072,40.6],[.0082,40.77],[.0076,40.98],[.0072,40.85],[.0053,40.56],
  [.005,40.87],[.0052,41.12],[.0039,40.68],[.0042,40.74],[.0033,40.83],[.0042,40.95],[.0038,40.98],[.0056,40.21],
  [.0067,40.7],[.0065,41.26],[.0071,41.04],[.0076,41.17],[.0081,41.18],
  // inside the GPS band
  [.0084,41.14],[.0085,40.73],[.00838,40.62],[.0081,40.79],[.0098,40.98],[.00982,40.79],[.0105,40.95],[.0108,40.67],
  [.0112,41.02],[.0105,41.33],[.0108,41.35],[.0115,41.26],[.0117,41.64],[.0118,41.05],[.012,40.86],[.0129,40.89],
  [.013,40.52],[.0133,40.87],[.0119,40.37],[.012,40.33],[.0128,40.43],[.0135,40.43],[.013,40.25],[.0138,41.8],
  [.0145,41.79],[.014,41.43],[.0144,41.48],[.0148,41.37],[.015,41.49],[.0153,41.48],[.0155,41.33],[.0156,41.29],
  [.0158,41.64],[.0158,41.14],[.0147,41.08],[.015,41.02],[.0149,40.8],[.0152,40.7],[.0161,40.79],[.017,40.79],
  [.017,41.0],[.0168,41.24],[.0172,41.02],[.0166,41.37],[.0132,41.83],[.0133,41.58],[.0141,41.85],[.0117,41.58],
  [.0105,41.24],[.0101,40.83],[.0154,41.3],[.0155,41.26],[.0158,41.43],[.016,40.85],[.0162,40.74],[.0165,41.37],
  [.0167,41.24],[.017,41.51],[.0172,40.83],[.0176,41.41],[.0176,41.22],[.0179,41.08],[.018,40.8],[.0179,40.58],
  [.0178,41.6],[.0177,41.74],[.0185,41.49],[.0188,41.3],[.0189,41.24],[.0191,41.35],[.0189,41.05],[.019,40.92],
  [.019,40.8],[.0194,41.08],[.02,40.77],[.02,41.45],[.0202,41.33],[.0204,41.36],[.0204,41.64],[.0206,41.68],
  [.0207,41.3],[.0207,40.95],[.021,40.8],[.0213,41.12],[.0214,41.41],[.0219,41.3],[.022,41.02],[.022,41.61],
  [.022,41.8],[.0222,41.86],[.0221,42.2],[.0161,41.51],[.0172,41.99],[.0173,41.91],[.0176,41.79],[.0184,41.72],
  [.0197,41.79],[.0207,41.99],[.0209,42.1],[.0154,41.64],[.01705,42.02],[.0166,41.89],[.0181,41.86],[.0183,41.76],
  [.0191,41.97],[.0217,41.94],
  // above the band
  [.0196,44.17],[.0184,43.76],[.0209,43.69],[.0219,43.62],[.016,43.54],[.0202,43.59],[.0205,43.52],[.008,43.33],
  [.0088,43.27],[.0094,43.33],[.0106,43.32],[.0123,43.4],[.0125,43.4],[.0131,43.38],[.0138,43.43],[.0154,43.42],
  [.0114,43.32],[.0141,43.45],[.0167,43.47],[.0193,43.5],[.0213,43.48],
  // main band
  [.00308,41.67],[.00352,41.92],[.00329,42.18],[.00384,42.39],[.00316,42.58],[.00367,42.74],[.00341,42.91],[.00395,42.12],
  [.00323,42.46],[.00376,42.63],[.00358,42.29],[.00304,42.83],[.00389,41.84],[.00336,42.02],
  [.00431,41.73],[.00476,41.98],[.00409,42.21],[.00458,42.41],[.00493,42.59],[.00422,42.77],[.00468,42.93],[.00441,42.33],
  [.00485,42.13],[.00414,42.51],[.00452,42.68],[.00497,42.86],[.00436,42.04],[.00463,41.87],
  [.00517,41.81],[.00562,42.06],[.00538,42.27],[.00589,42.46],[.00506,42.64],[.00571,42.81],[.00544,42.97],[.00527,42.38],
  [.00596,42.19],[.00553,42.57],[.00511,42.91],[.00578,42.71],[.00533,41.95],[.00584,42.33],
  [.00624,41.88],[.00667,42.11],[.00603,42.32],[.00648,42.51],[.00691,42.68],[.00632,42.84],[.00679,42.99],[.00615,42.43],
  [.00657,42.24],[.00698,42.61],[.00641,42.76],[.00608,42.93],[.00672,42.03],[.00685,42.41],
  [.00714,41.94],[.00758,42.17],[.00736,42.38],[.00781,42.56],[.00703,42.73],[.00767,42.88],[.00745,43.02],[.00722,42.49],
  [.00793,42.29],[.00751,42.64],[.00709,42.97],[.00774,42.79],[.00729,42.08],[.00788,42.44],
  [.00827,42.01],[.00863,42.22],[.00806,42.43],[.00849,42.61],[.00892,42.77],[.00834,42.92],[.00878,43.04],[.00812,42.53],
  [.00856,42.34],[.00897,42.69],[.00841,42.84],[.00819,42.98],[.00871,42.12],[.00884,42.47],
  [.00913,42.05],[.00957,42.27],[.00934,42.47],[.00979,42.64],[.00902,42.81],[.00966,42.95],[.00943,43.06],[.00921,42.57],
  [.00991,42.38],[.00948,42.73],[.00908,43.01],[.00973,42.87],[.00927,42.16],[.00986,42.52],
  [.01026,42.09],[.01062,42.31],[.01004,42.51],[.01047,42.68],[.01091,42.84],[.01033,42.98],[.01076,43.08],[.01012,42.61],
  [.01054,42.41],[.01097,42.76],[.01039,42.91],[.01018,43.04],[.01069,42.19],[.01083,42.56],
  [.01114,42.13],[.01158,42.35],[.01135,42.55],[.01179,42.72],[.01103,42.88],[.01167,43.01],[.01144,43.11],[.01122,42.65],
  [.01192,42.45],[.01149,42.79],[.01108,42.95],[.01173,42.92],[.01128,42.24],[.01186,42.61],
  [.01204,42.21],[.01247,42.29],[.01283,42.36],[.01219,42.44],[.01262,42.51],[.01235,42.58],[.01291,42.63],[.01211,42.69],
  [.01256,42.74],[.01228,42.79],[.01274,42.84],[.01242,42.89],[.01208,42.93],[.01296,42.97],[.01265,43.01],[.01231,43.06],
  [.01286,43.11],[.01252,43.17],[.01217,43.23],[.01278,43.29],[.01239,42.47],[.01269,42.67],[.01223,42.99],[.01294,42.81],
  [.01259,42.38],[.01213,42.57],[.01281,42.92],[.01245,43.03],
  [.01336,42.23],[.01371,42.31],[.01309,42.39],[.01354,42.46],[.01392,42.53],[.01327,42.59],[.01363,42.65],[.01318,42.71],
  [.01384,42.76],[.01345,42.81],[.01303,42.86],[.01376,42.9],[.01339,42.95],[.01397,42.99],[.01322,43.04],[.01358,43.09],
  [.01389,43.14],[.01314,43.2],[.01349,43.26],[.01381,43.32],[.01331,42.49],[.01367,42.73],[.01306,43.01],[.01393,42.62],
  [.01342,42.35],[.01374,43.06],[.01325,42.84],[.01361,42.97],
  [.01421,42.24],[.01463,42.33],[.01407,42.41],[.01448,42.48],[.01486,42.55],[.01432,42.61],[.01472,42.67],[.01415,42.72],
  [.01457,42.78],[.01494,42.83],[.01438,42.87],[.01403,42.92],[.01479,42.96],[.01444,43.01],[.01426,43.05],[.01467,43.1],
  [.01491,43.15],[.01411,43.21],[.01452,43.27],[.01483,43.33],[.01435,42.51],[.01476,42.74],[.01418,42.99],[.01498,42.64],
  [.01459,42.39],[.01429,43.13],[.01469,42.89],[.01441,42.69],
  [.01528,42.26],[.01566,42.34],[.01504,42.42],[.01547,42.49],[.01589,42.56],[.01519,42.62],[.01558,42.68],[.01536,42.73],
  [.01597,42.78],[.01512,42.83],[.01574,42.88],[.01541,42.93],[.01583,42.97],[.01508,43.02],[.01553,43.06],[.01531,43.11],
  [.01592,43.16],[.01569,43.22],[.01516,43.28],[.01545,43.34],[.01579,42.52],[.01524,42.75],[.01562,43.0],[.01501,42.65],
  [.01587,42.41],[.01538,43.14],[.01571,42.86],[.01549,42.61],
  [.01611,42.27],[.01654,42.36],[.01689,42.43],[.01628,42.5],[.01667,42.57],[.01603,42.63],[.01642,42.69],[.01681,42.74],
  [.01619,42.79],[.01659,42.84],[.01696,42.89],[.01634,42.93],[.01672,42.98],[.01607,43.02],[.01648,43.07],[.01685,43.12],
  [.01623,43.17],[.01663,43.23],[.01692,43.29],[.01637,43.35],[.01614,42.53],[.01677,42.71],[.01645,43.04],[.01699,42.62],
  [.01626,42.42],[.01669,43.15],[.01606,42.87],[.01651,42.95],
  [.01716,42.29],[.01753,42.37],[.01789,42.44],[.01727,42.51],[.01764,42.58],[.01703,42.64],[.01741,42.7],[.01782,42.75],
  [.01719,42.8],[.01758,42.85],[.01795,42.9],[.01734,42.94],[.01771,42.99],[.01708,43.03],[.01746,43.08],[.01786,43.13],
  [.01723,43.18],[.01761,43.24],[.01798,43.3],[.01737,43.36],[.01712,42.54],[.01776,42.72],[.01749,43.05],[.01793,42.63],
  [.01729,42.43],[.01767,43.16],[.01705,42.88],[.01754,42.96],
  [.01819,42.3],[.01857,42.38],[.01892,42.45],[.01831,42.52],[.01868,42.59],[.01806,42.65],[.01845,42.71],[.01884,42.76],
  [.01823,42.81],[.01862,42.86],[.01898,42.91],[.01837,42.95],[.01874,43.0],[.01811,43.04],[.01851,43.09],[.01889,43.14],
  [.01827,43.19],[.01864,43.25],[.01896,43.31],[.01841,43.37],[.01814,42.55],[.01879,42.73],[.01853,43.06],[.01894,42.64],
  [.01833,42.44],[.01871,43.17],[.01808,42.89],[.01858,42.97],
  [.01912,42.31],[.01954,42.39],[.01987,42.46],[.01926,42.53],[.01965,42.6],[.01903,42.66],[.01943,42.72],[.01982,42.77],
  [.01918,42.82],[.01959,42.87],[.01994,42.92],[.01932,42.96],[.01971,43.01],[.01907,43.05],[.01948,43.1],[.01985,43.15],
  [.01923,43.2],[.01962,43.26],[.01997,43.32],[.01937,43.38],[.01915,42.56],[.01976,42.74],[.01951,43.07],[.01991,42.65],
  [.01929,42.45],[.01968,43.18],[.01905,42.9],[.01956,42.98],
  [.02017,42.32],[.02053,42.4],[.02089,42.47],[.02028,42.54],[.02066,42.61],[.02004,42.67],[.02042,42.73],[.02081,42.78],
  [.02021,42.83],[.02059,42.88],[.02095,42.93],[.02034,42.97],[.02072,43.02],[.02009,43.06],[.02048,43.11],[.02086,43.16],
  [.02025,43.21],[.02063,43.27],[.02098,43.33],[.02038,43.39],[.02013,42.57],[.02077,42.75],[.02051,43.08],[.02092,42.66],
  [.02031,42.46],[.02069,43.19],[.02006,42.91],[.02056,42.99],
  [.02114,42.33],[.02152,42.41],[.02187,42.48],[.02127,42.55],[.02165,42.62],[.02104,42.68],[.02143,42.74],[.02181,42.79],
  [.02121,42.84],[.02159,42.89],[.02196,42.94],[.02135,42.98],[.02173,43.03],[.02109,43.07],[.02148,43.12],[.02186,43.17],
  [.02124,43.22],[.02162,43.28],[.02199,43.34],[.02138,43.4],[.02117,42.58],[.02177,42.76],[.02208,43.09],[.02214,42.67],
  [.02219,42.47],[.02223,43.2],[.02206,42.92],[.02211,43.0]
];

// known AGN, extra points in the crowded upper band
const knownAgnBand = [
  [.00327,41.76],[.00361,42.05],[.00312,42.33],[.00379,42.53],[.00343,42.71],[.00392,42.84],[.00305,42.22],[.00354,42.44],
  [.00371,41.96],[.00338,42.62],[.00397,42.31],[.00318,42.93],
  [.00427,41.83],[.00464,42.12],[.00411,42.39],[.00482,42.58],[.00444,42.77],[.00495,42.89],[.00405,42.29],[.00457,42.49],
  [.00473,42.02],[.00439,42.68],[.00491,42.37],[.00419,42.97],
  [.00526,41.9],[.00568,42.17],[.00513,42.45],[.00586,42.62],[.00547,42.83],[.00598,42.93],[.00508,42.35],[.00559,42.54],
  [.00577,42.09],[.00541,42.74],[.00593,42.42],[.00521,43.01],
  [.00628,41.97],[.00671,42.22],[.00614,42.5],[.00688,42.67],[.00649,42.88],[.00699,42.97],[.00607,42.41],[.00662,42.59],
  [.00679,42.15],[.00643,42.79],[.00694,42.47],[.00623,43.05],
  [.00727,42.03],[.00773,42.27],[.00716,42.55],[.00789,42.71],[.00751,42.92],[.00798,43.01],[.00708,42.46],[.00763,42.63],
  [.00781,42.2],[.00742,42.84],[.00795,42.52],[.00722,43.09],
  [.00829,42.08],[.00874,42.31],[.00816,42.59],[.00889,42.75],[.00853,42.96],[.00897,43.05],[.00808,42.51],[.00865,42.67],
  [.00883,42.25],[.00844,42.88],[.00894,42.57],[.00821,43.12],
  [.00931,42.13],[.00976,42.35],[.00917,42.63],[.00988,42.79],[.00954,42.99],[.00998,43.08],[.00909,42.55],[.00966,42.71],
  [.00984,42.3],[.00945,42.92],[.00993,42.61],[.00922,43.14],
  [.01032,42.17],[.01078,42.39],[.01018,42.67],[.01089,42.82],[.01056,43.02],[.01099,43.11],[.01008,42.59],[.01067,42.75],
  [.01085,42.34],[.01046,42.95],[.01094,42.65],[.01023,43.17],
  [.01133,42.21],[.01179,42.43],[.01119,42.71],[.01188,42.86],[.01157,43.05],[.01197,43.14],[.01109,42.63],[.01168,42.79],
  [.01186,42.38],[.01147,42.98],[.01193,42.69],[.01124,43.2],
  [.01231,42.26],[.01276,42.47],[.01219,42.74],[.01288,42.88],[.01257,43.07],[.01297,43.16],[.01209,42.66],[.01268,42.82],
  [.01284,42.41],[.01246,43.0],[.01293,42.71],[.01224,43.24],[.01261,42.55],[.01238,42.93],[.01279,43.12],
  [.01333,42.28],[.01378,42.5],[.01318,42.76],[.01389,42.9],[.01356,43.09],[.01398,43.18],[.01308,42.68],[.01367,42.84],
  [.01384,42.44],[.01347,43.02],[.01394,42.73],[.01324,43.26],[.01362,42.58],[.01339,42.95],[.01381,43.14],
  [.01434,42.31],[.01479,42.52],[.01419,42.79],[.01488,42.93],[.01457,43.11],[.01499,43.2],[.01409,42.71],[.01468,42.87],
  [.01485,42.46],[.01448,43.05],[.01495,42.76],[.01425,43.29],[.01463,42.6],[.01441,42.98],[.01482,43.17],
  [.01535,42.33],[.01579,42.54],[.01521,42.81],[.01589,42.95],[.01558,43.13],[.01598,43.22],[.01511,42.73],[.01569,42.89],
  [.01586,42.48],[.01549,43.07],[.01596,42.78],[.01526,43.31],[.01564,42.62],[.01542,43.0],[.01583,43.19],
  [.01636,42.35],[.01681,42.56],[.01622,42.83],[.01691,42.97],[.01659,43.15],[.01699,43.24],[.01612,42.75],[.01671,42.91],
  [.01687,42.5],[.01651,43.09],[.01697,42.8],[.01627,43.33],[.01665,42.64],[.01643,43.02],[.01684,43.21],
  [.01737,42.37],[.01782,42.58],[.01723,42.85],[.01792,42.99],[.01761,43.17],[.01799,43.26],[.01713,42.77],[.01772,42.93],
  [.01788,42.52],[.01752,43.11],[.01797,42.82],[.01728,43.35],[.01766,42.66],[.01744,43.04],[.01785,43.23],
  [.01838,42.39],[.01883,42.6],[.01824,42.87],[.01893,43.01],[.01862,43.19],[.01899,43.28],[.01814,42.79],[.01873,42.95],
  [.01889,42.54],[.01853,43.13],[.01896,42.84],[.01829,43.37],[.01867,42.68],[.01845,43.06],[.01886,43.25],
  [.01939,42.41],[.01984,42.62],[.01925,42.89],[.01994,43.03],[.01963,43.21],[.01999,43.3],[.01915,42.81],[.01974,42.97],
  [.01989,42.56],[.01954,43.15],[.01997,42.86],[.01931,43.39],[.01968,42.7],[.01946,43.08],[.01987,43.27],
  [.02041,42.43],[.02085,42.64],[.02027,42.91],[.02095,43.05],[.02064,43.23],[.02099,43.32],[.02016,42.83],[.02075,42.99],
  [.02091,42.58],[.02055,43.17],[.02097,42.88],[.02033,43.41],[.02069,42.72],[.02047,43.1],[.02088,43.29],
  [.02142,42.45],[.02186,42.66],[.02128,42.93],[.02196,43.07],[.02165,43.25],[.02213,43.34],[.02117,42.85],[.02176,43.01],
  [.02192,42.6],[.02156,43.19],[.02218,42.9],[.02134,43.43],[.02171,42.74],[.02148,43.12],[.02222,43.3]
];

// B70 AGN
const b70Agn = [
  [.00386,43.89],[.0015,43.07],[-.00004,42.33],[.0016,41.82],[.00186,42.52],[.0029,42.79],[.0035,42.75],[.0039,42.66],
  [.003,42.57],[.0024,42.21],[.003,42.2],[.0034,42.27],[.0037,42.1],[.0037,41.82],[.0041,41.78],[.0048,42.84],
  [.0051,42.67],[.0048,42.02],[.0051,42.03],[.0053,43.19],[.0019,41.56],[.0041,41.58],[.0056,41.68],[.005,41.65],
  [.0062,43.34],[.0055,42.94],[.0059,42.89],[.0063,42.67],[.0066,42.53],[.0061,42.3],[.0066,42.21],[.007,42.79],
  [.0076,43.1],[.0076,42.77],[.0077,42.83],[.0078,43.32],[.008,42.5],[.0081,42.38],[.0078,42.31],
  [.0118,43.71],[.0118,43.49],[.0088,43.49],[.0097,43.51],[.0142,43.68],[.0145,43.65],[.015,43.96],[.0153,43.7],
  [.0144,43.5],[.015,43.41],[.0157,43.4],[.0085,43.27],[.0086,43.17],[.0092,43.2],[.0099,43.16],[.0103,43.19],
  [.0107,43.24],[.0114,43.24],[.0127,43.24],[.0129,43.34],[.0136,43.38],[.014,43.33],[.0128,43.17],[.0134,43.17],
  [.0137,43.16],[.012,43.1],[.01215,43.1],[.0125,43.03],[.0128,42.98],[.0133,43.0],[.0135,43.05],[.0142,43.06],
  [.0146,43.04],[.0155,43.1],[.0156,43.15],[.0152,42.98],[.0141,42.9],[.0146,42.9],[.0152,42.92],[.0149,42.78],
  [.0149,42.68],[.0129,42.92],[.012,42.88],[.012,42.8],[.0122,42.76],[.0113,42.96],[.011,42.73],[.0112,42.8],
  [.0104,42.93],[.0104,42.59],[.0095,42.67],[.0095,42.58],[.01,42.55],[.009,42.93],[.0085,42.81],[.0086,42.73],
  [.009,42.73],[.0087,42.41],[.0088,42.33],[.0092,42.43],[.013,42.53],[.0104,43.27],
  [.0161,44.16],[.0163,43.86],[.0188,44.0],[.02,44.04],[.0205,44.09],[.019,43.68],[.0214,43.72],[.0167,43.59],
  [.0162,43.54],[.0176,43.67],[.017,43.51],[.018,43.54],[.0182,43.47],[.02,43.59],[.0209,43.52],[.0211,43.39],
  [.016,43.37],[.0163,43.35],[.0168,43.34],[.0171,43.29],[.0175,43.24],[.0179,43.4],[.0186,43.38],[.0193,43.42],
  [.0196,43.36],[.0217,43.29],[.022,43.2],[.0165,43.19],[.01695,43.21],[.0172,43.14],[.016,43.24],[.0159,43.18],
  [.0189,43.13],[.0206,43.17],[.02075,43.12],[.0213,43.23],[.0217,43.13],[.0164,42.97],[.0165,42.9],[.0175,42.93],
  [.0169,43.04],[.0187,42.96],[.0195,43.04],[.01975,43.02],[.0204,43.04],[.0209,42.98],[.0213,43.09],[.0159,42.77],
  [.016,42.62],[.0171,42.85],[.017,42.78],[.0183,42.82],[.0195,42.85],[.0195,42.77],[.02,42.68],[.022,42.87],
  [.0212,42.62],[.0218,42.64],[.0189,42.56]
];

const series = [
  { label: 'LASr-GPS', data: lasrGps.concat(lasrGpsCore), style: 'circle', radius: 3.4, fill: 'rgba(12,64,168,0.7)', line: 'rgba(0,0,0,0)', width: 0, order: 4,
    key: { color: 'rgba(60,130,195,0.85)', r: 2.4 } },
  { label: '2MRS', data: twoMrs.concat(twoMrsBand), style: 'circle', radius: 3.2, fill: 'rgba(215,60,20,0.8)', line: 'rgba(110,40,25,0.5)', width: 0.8, order: 3,
    key: { color: 'rgb(245,150,120)', r: 2.3 } },
  { label: 'known AGN', data: knownAgn.concat(knownAgnBand), style: 'cross', radius: 4.8, fill: 'rgba(0,0,0,0)', line: 'rgba(10,0,0,0.66)', width: 1.4, order: 2,
    key: { color: 'rgb(120,120,120)', r: 4.2, w: 1.2 } },
  { label: 'B70 AGN', data: b70Agn, style: 'cross', radius: 4.3, fill: 'rgba(0,0,0,0)', line: '#ff00ff', width: 2.8, order: 1,
    key: { color: '#ff00ff', r: 3.6, w: 2.6 } }
];

// spines, inward ticks, axis titles and legend
const frame = {
  id: 'frame',
  afterDraw(chart) {
    const { ctx, chartArea: a } = chart;
    const sx = chart.scales.x, sy = chart.scales.y;
    ctx.save();
    ctx.strokeStyle = '#000';
    ctx.lineWidth = 1.4;
    ctx.beginPath();
    for (let i = 0; i <= 22; i++) {
      const px = Math.round(sx.getPixelForValue(i / 1000)) + 0.5;
      const len = i % 5 === 0 ? 10 : 5;
      ctx.moveTo(px, a.bottom); ctx.lineTo(px, a.bottom - len);
      ctx.moveTo(px, a.top); ctx.lineTo(px, a.top + len);
    }
    for (let i = 0; i <= 37; i++) {
      const py = Math.round(sy.getPixelForValue(37 + i * 0.2)) + 0.5;
      const len = i % 5 === 0 ? 10 : 5;
      ctx.moveTo(a.left, py); ctx.lineTo(a.left + len, py);
      ctx.moveTo(a.right, py); ctx.lineTo(a.right - len, py);
    }
    ctx.stroke();
    ctx.lineWidth = 1.8;
    ctx.strokeRect(a.left, a.top, a.right - a.left, a.bottom - a.top);

    // x title
    ctx.fillStyle = '#000';
    ctx.font = '21.5px "DejaVu Sans"';
    ctx.textAlign = 'center';
    ctx.textBaseline = 'alphabetic';
    ctx.fillText('redshift', (a.left + a.right) / 2, 689);

    // y title, mixed fonts
    const parts = [
      ['log ', '22.5px "DejaVu Sans"'],
      ['L', 'italic 25px "Liberation Serif"'],
      ['(', '25px "Liberation Serif"'],
      ['W1', 'italic 25px "Liberation Serif"'],
      [')', '25px "Liberation Serif"'],
      [' [erg/s]', '22.5px "DejaVu Sans"']
    ];
    let total = 0;
    parts.forEach(p => { ctx.font = p[1]; total += ctx.measureText(p[0]).width; });
    ctx.save();
    ctx.translate(42, 326);
    ctx.rotate(-Math.PI / 2);
    ctx.textAlign = 'left';
    let cx = -total / 2;
    parts.forEach(p => { ctx.font = p[1]; ctx.fillText(p[0], cx, 0); cx += ctx.measureText(p[0]).width; });
    ctx.restore();

    // legend
    const bx = 618, by = 435, bw = 239, bh = 176, br = 6;
    ctx.beginPath();
    ctx.moveTo(bx + br, by);
    ctx.arcTo(bx + bw, by, bx + bw, by + bh, br);
    ctx.arcTo(bx + bw, by + bh, bx, by + bh, br);
    ctx.arcTo(bx, by + bh, bx, by, br);
    ctx.arcTo(bx, by, bx + bw, by, br);
    ctx.closePath();
    ctx.fillStyle = 'rgba(255,255,255,0.8)';
    ctx.fill();
    ctx.strokeStyle = '#d4d4d4';
    ctx.lineWidth = 1.6;
    ctx.stroke();

    const rowsY = [459, 501, 544, 585];
    ctx.font = '24px "DejaVu Sans"';
    ctx.textAlign = 'left';
    ctx.textBaseline = 'alphabetic';
    series.forEach((s, i) => {
      const my = rowsY[i], mx = 657, k = s.key;
      if (s.style === 'circle') {
        ctx.beginPath();
        ctx.arc(mx, my, k.r, 0, Math.PI * 2);
        ctx.fillStyle = k.color;
        ctx.fill();
      } else {
        ctx.beginPath();
        ctx.moveTo(mx - k.r, my); ctx.lineTo(mx + k.r, my);
        ctx.moveTo(mx, my - k.r); ctx.lineTo(mx, my + k.r);
        ctx.strokeStyle = k.color;
        ctx.lineWidth = k.w;
        ctx.stroke();
      }
      ctx.fillStyle = '#000';
      ctx.fillText(s.label, 706, my + 9);
    });
    ctx.restore();
  }
};

new Chart(document.getElementById('chart'), {
  type: 'scatter',
  data: {
    datasets: series.map(s => ({
      label: s.label,
      data: s.data,
      order: s.order,
      pointStyle: s.style,
      pointRadius: s.radius,
      pointHoverRadius: s.radius,
      backgroundColor: s.fill,
      borderColor: s.line,
      borderWidth: s.width
    }))
  },
  options: {
    responsive: false,
    animation: false,
    events: [],
    layout: { padding: { left: 0, top: 19, right: 20, bottom: 0 } },
    plugins: { legend: { display: false }, tooltip: { enabled: false } },
    scales: {
      x: {
        type: 'linear',
        min: -0.00096,
        max: 0.0230,
        grid: { display: false },
        border: { display: false },
        afterBuildTicks: s => { s.ticks = xTickVals.map(v => ({ value: v })); },
        afterFit: s => { s.height = 91; },
        ticks: {
          padding: 8,
          color: '#000',
          font: { family: 'Liberation Serif', size: 26.5 },
          callback: v => v.toFixed(3)
        }
      },
      y: {
        type: 'linear',
        min: 37,
        max: 44.5,
        grid: { display: false },
        border: { display: false },
        afterBuildTicks: s => { s.ticks = yTickVals.map(v => ({ value: v })); },
        afterFit: s => { s.width = 96; },
        ticks: {
          padding: 10,
          color: '#000',
          font: { family: 'Liberation Serif', size: 26.5 },
          callback: v => String(v)
        }
      }
    }
  },
  plugins: [frame]
});
</script>
</body>
</html>
